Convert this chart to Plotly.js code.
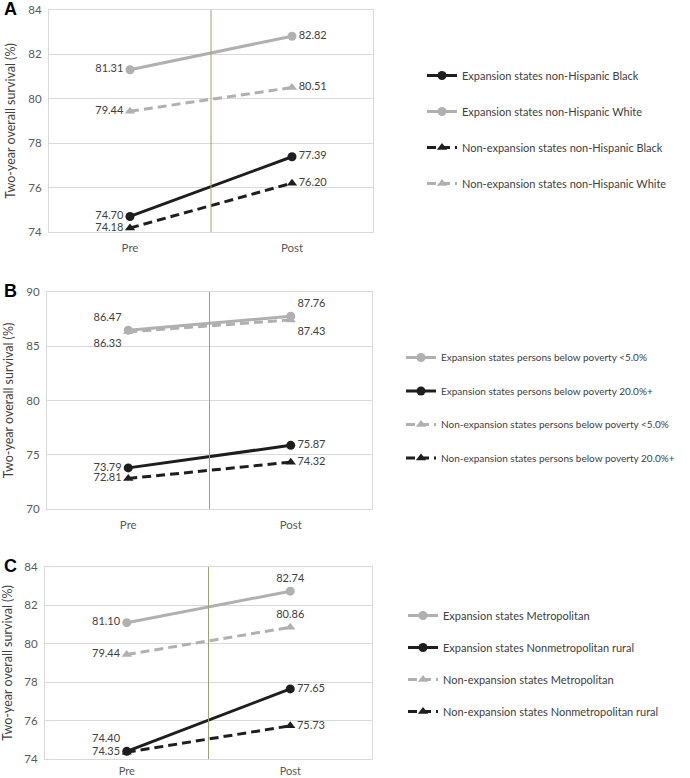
<!DOCTYPE html>
<html>
<head>
<meta charset="utf-8">
<script src="https://cdn.plot.ly/plotly-3.0.1.min.js"></script>
<style>html,body{margin:0;padding:0;background:#fff;}#chart{width:690px;height:778px;}</style>
</head>
<body>
<div id="chart"></div>
<script>
// ---- data ----
const periods = ["Pre", "Post"];

// Panel A: race
const aNames = ["Expansion states non-Hispanic Black", "Expansion states non-Hispanic White",
                "Non-expansion states non-Hispanic Black", "Non-expansion states non-Hispanic White"];
const aExpBlack = [74.70, 77.39];
const aExpWhite = [81.31, 82.82];
const aNonBlack = [74.18, 76.20];
const aNonWhite = [79.44, 80.51];

// Panel B: poverty
const bNames = ["Expansion states persons below poverty <5.0%", "Expansion states persons below poverty 20.0%+",
                "Non-expansion states persons below poverty <5.0%", "Non-expansion states persons below poverty 20.0%+"];
const bExpLow = [86.47, 87.76];
const bExpHigh = [73.79, 75.87];
const bNonLow = [86.33, 87.43];
const bNonHigh = [72.81, 74.32];

// Panel C: urbanicity
const cNames = ["Expansion states Metropolitan", "Expansion states Nonmetropolitan rural",
                "Non-expansion states Metropolitan", "Non-expansion states Nonmetropolitan rural"];
const cExpMetro = [81.10, 82.74];
const cExpRural = [74.40, 77.65];
const cNonMetro = [79.44, 80.86];
const cNonRural = [74.35, 75.73];

const yTitle = "Two-year overall survival (%)";
const panelLetters = ["A", "B", "C"];

// ---- styles ----
const GREY = "#b0b0b0", BLACK = "#1e1e1e";
const FONT = "Lato, 'Open Sans', sans-serif";
const DASH = "9px,5px";

function tr(name, y, color, dashed, pos, xa, ya, leg, grp) {
  return {
    type: "scatter", mode: "lines+markers+text",
    x: periods, y: y, name: name,
    text: y.map(v => v.toFixed(2)), textposition: pos,
    textfont: {family: FONT, size: 11, color: "#404040"},
    line: {color: color, width: 3, dash: dashed ? DASH : "solid"},
    marker: {color: color, size: 9, symbol: dashed ? "triangle-up" : "circle"},
    xaxis: xa, yaxis: ya, legend: leg, legendgroup: grp, cliponaxis: false,
    hoverinfo: "skip"
  };
}

const data = [
  tr(aNames[0], aExpBlack, BLACK, false, ["middle left", "middle right"], "x", "y", "legend", "a1"),
  tr(aNames[1], aExpWhite, GREY, false, ["middle left", "middle right"], "x", "y", "legend", "a2"),
  tr(aNames[2], aNonBlack, BLACK, true, ["middle left", "middle right"], "x", "y", "legend", "a3"),
  tr(aNames[3], aNonWhite, GREY, true, ["middle left", "middle right"], "x", "y", "legend", "a4"),

  tr(bNames[0], bExpLow, GREY, false, ["top left", "top right"], "x2", "y2", "legend2", "b1"),
  tr(bNames[1], bExpHigh, BLACK, false, ["middle left", "middle right"], "x2", "y2", "legend2", "b2"),
  tr(bNames[2], bNonLow, GREY, true, ["bottom left", "bottom right"], "x2", "y2", "legend2", "b3"),
  tr(bNames[3], bNonHigh, BLACK, true, ["middle left", "middle right"], "x2", "y2", "legend2", "b4"),

  tr(cNames[0], cExpMetro, GREY, false, ["middle left", "top center"], "x3", "y3", "legend3", "c1"),
  tr(cNames[1], cExpRural, BLACK, false, ["top left", "middle right"], "x3", "y3", "legend3", "c2"),
  tr(cNames[2], cNonMetro, GREY, true, ["middle left", "top center"], "x3", "y3", "legend3", "c3"),
  tr(cNames[3], cNonRural, BLACK, true, ["middle left", "middle right"], "x3", "y3", "legend3", "c4")
];

const H = 778, W = 690;
function xax(l, r, tl, fs) {
  return {domain: [l / W, r / W], type: "category", range: [-0.5, 1.5],
    showgrid: false, zeroline: false, showline: true, mirror: true, linecolor: "#d9d9d9", linewidth: 1,
    ticks: "outside", ticklen: tl, tickcolor: "rgba(0,0,0,0)",
    tickfont: {family: FONT, size: fs, color: "#595959"}, fixedrange: true};
}
function yax(t, b, lo, hi, dt) {
  return {domain: [1 - b / H, 1 - t / H], range: [lo, hi], dtick: dt, tick0: lo,
    showgrid: true, gridcolor: "#d9d9d9", gridwidth: 1, zeroline: false,
    showline: true, mirror: true, linecolor: "#d9d9d9", linewidth: 1,
    ticks: "", ticklabelstandoff: 4, tickfont: {family: FONT, size: 11.5, color: "#595959"},
    title: {text: yTitle, font: {family: FONT, size: 12.5, color: "#404040"}, standoff: 9},
    fixedrange: true};
}
function vline(xr, yr) {
  return {type: "line", xref: xr, x0: 0.5, x1: 0.5, yref: yr + " domain", y0: 0, y1: 1,
    line: {color: "#a0a070", width: 1}};
}
function leg(x, yTop, gap, fs) {
  return {x: x / W, y: 1 - yTop / H, xanchor: "left", yanchor: "top", xref: "paper", yref: "paper",
    font: {family: FONT, size: fs, color: "#404040"}, tracegroupgap: gap, bgcolor: "rgba(0,0,0,0)",
    traceorder: "grouped", itemwidth: 30};
}
const letters = [10, 292, 567].map((y, i) => ({
  text: "<b>" + panelLetters[i] + "</b>", xref: "paper", yref: "paper",
  x: 2 / W, y: 1 - (y - 1) / H, xanchor: "left", yanchor: "middle", showarrow: false,
  font: {family: "Liberation Sans, Arial, sans-serif", size: 18, color: "#000"}
}));

const layout = {
  width: W, height: H, margin: {l: 0, r: 0, t: 0, b: 0},
  paper_bgcolor: "#fff", plot_bgcolor: "#fff", showlegend: true,
  xaxis: Object.assign(xax(49, 373, 5, 11.5), {anchor: "y"}), yaxis: Object.assign(yax(10, 232, 74, 84, 2), {anchor: "x"}),
  xaxis2: Object.assign(xax(47, 372, 5, 11.5), {anchor: "y2"}), yaxis2: Object.assign(yax(292, 509, 70, 90, 5), {anchor: "x2"}),
  xaxis3: Object.assign(xax(45, 372, 2, 11), {anchor: "y3"}), yaxis3: Object.assign(yax(567, 759, 74, 84, 2), {anchor: "x3"}),
  legend: leg(422, 61, 17, 11),
  legend2: leg(401, 343, 14.5, 10),
  legend3: leg(403, 601, 13, 11),
  shapes: [vline("x", "y"), vline("x2", "y2"), vline("x3", "y3")],
  annotations: letters
};

Plotly.newPlot("chart", data, layout, {displayModeBar: false, staticPlot: true});
</script>
</body>
</html>
